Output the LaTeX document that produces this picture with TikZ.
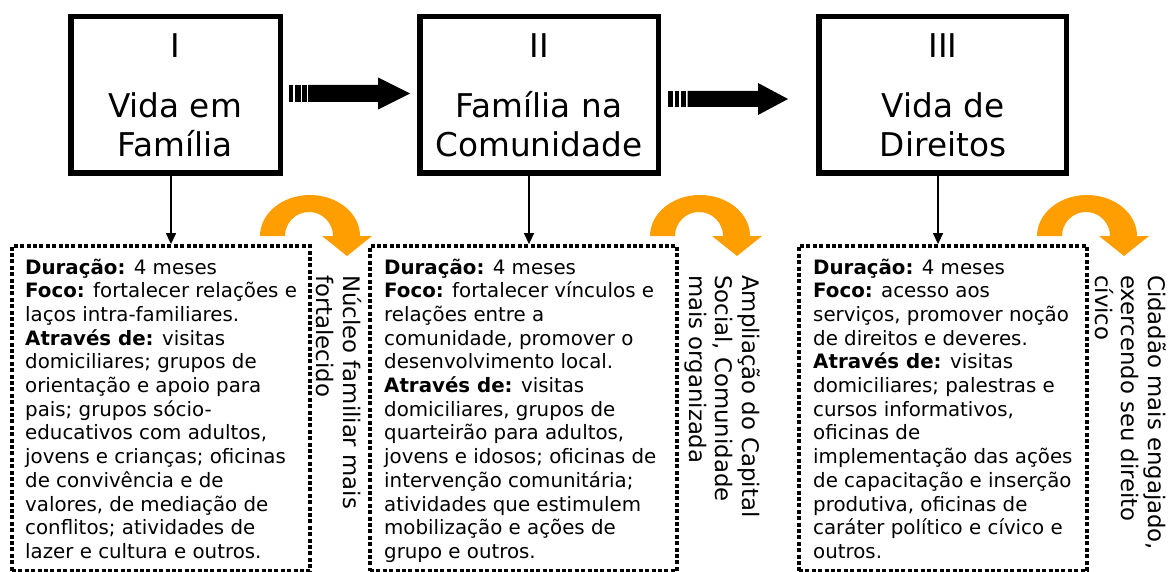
\documentclass[tikz,border=0pt]{standalone}
\usepackage{fontspec}
\setmainfont{DejaVu Sans}
\usetikzlibrary{arrows.meta,calc}
\definecolor{orangearr}{RGB}{255,158,0}
\newcommand{\bodyfnt}{\fontsize{19.8}{23.7}\selectfont}
\newcommand{\titlefnt}{\fontsize{32.7}{39}\selectfont}
\newcommand{\sidefnt}{\fontsize{22.8}{26.5}\selectfont}
\begin{document}
\begin{tikzpicture}[x=1pt,y=1pt,
  phasebox/.style={draw, line width=5.5pt, minimum height=156.5pt, inner sep=0pt},
  detailbox/.style={draw, line width=3.8pt, dash pattern=on 4pt off 2.4pt, minimum height=325pt, inner sep=0pt},
  titletext/.style={anchor=base, inner sep=0pt, font=\titlefnt},
  bodytext/.style={anchor=base west, inner sep=0pt, font=\bodyfnt},
  sidetext/.style={anchor=base west, inner sep=0pt, rotate=-90, font=\sidefnt},
  thinarrow/.style={line width=1.3pt, -{Triangle[length=11pt,width=10pt]}},
  bigarrow/.style={fill=black},
  curvearrow/.style={fill=orangearr}]
\useasboundingbox (0,0) rectangle (1169,-572);

% phase boxes
\node[phasebox, minimum width=209.5pt] (b1) at (175.5,-95) {};
\node[phasebox, minimum width=238.5pt] (b2) at (539,-95) {};
\node[phasebox, minimum width=247.5pt] (b3) at (942.5,-95) {};

\node[titletext] (t1) at (175,-58) {\begin{tabular}[t]{@{}c@{}}I\\[21pt]Vida em\\Família\end{tabular}};
\node[titletext] (t2) at (539,-58) {\begin{tabular}[t]{@{}c@{}}II\\[21pt]Família na\\Comunidade\end{tabular}};
\node[titletext] (t3) at (943,-58) {\begin{tabular}[t]{@{}c@{}}III\\[21pt]Vida de\\Direitos\end{tabular}};

% detail boxes
\node[detailbox, minimum width=298pt] (d1) at (161,-408.5) {};
\node[detailbox, minimum width=307pt] (d2) at (523.5,-408.5) {};
\node[detailbox, minimum width=288pt] (d3) at (943,-408.5) {};

\node[bodytext] (x1) at (25,-274) {\begin{tabular}[t]{@{}l@{}}
\textbf{Duração:} 4 meses\\
\textbf{Foco:} fortalecer relações e\\
laços intra-familiares.\\
\textbf{Através de:} visitas\\
domiciliares; grupos de\\
orientação e apoio para\\
pais; grupos sócio-\\
educativos com adultos,\\
jovens e crianças; oficinas\\
de convivência e de\\
valores, de mediação de\\
conflitos; atividades de\\
lazer e cultura e outros.\end{tabular}};

\node[bodytext] (x2) at (384,-274) {\begin{tabular}[t]{@{}l@{}}
\textbf{Duração:} 4 meses\\
\textbf{Foco:} fortalecer vínculos e\\
relações entre a\\
comunidade, promover o\\
desenvolvimento local.\\
\textbf{Através de:} visitas\\
domiciliares, grupos de\\
quarteirão para adultos,\\
jovens e idosos; oficinas de\\
intervenção comunitária;\\
atividades que estimulem\\
mobilização e ações de\\
grupo e outros.\end{tabular}};

\node[bodytext] (x3) at (813,-274) {\begin{tabular}[t]{@{}l@{}}
\textbf{Duração:} 4 meses\\
\textbf{Foco:} acesso aos\\
serviços, promover noção\\
de direitos e deveres.\\
\textbf{Através de:} visitas\\
domiciliares; palestras e\\
cursos informativos,\\
oficinas de\\
implementação das ações\\
de capacitação e inserção\\
produtiva, oficinas de\\
caráter político e cívico e\\
outros.\end{tabular}};

% side labels
\node[sidetext] (s1) at (343,-275) {\begin{tabular}[t]{@{}l@{}}Núcleo familiar mais\\fortalecido\end{tabular}};
\node[sidetext] (s2) at (742,-275) {\begin{tabular}[t]{@{}l@{}}Ampliação do Capital\\Social, Comunidade\\mais organizada\end{tabular}};
\node[sidetext] (s3) at (1148,-275) {\begin{tabular}[t]{@{}l@{}}Cidadão mais engajado,\\exercendo seu direito\\cívico\end{tabular}};

% down connectors
\coordinate (a1) at (171,0);
\coordinate (a2) at (529,0);
\coordinate (a3) at (938,0);
\draw[thinarrow] (b1.south -| a1) -- (d1.north -| a1);
\draw[thinarrow] (b2.south -| a2) -- (d2.north -| a2);
\draw[thinarrow] (b3.south -| a3) -- (d3.north -| a3);

% striped arrows
\begin{scope}[shift={(0,-93.5)}]
\fill[bigarrow] (289,-8.5) rectangle (293,8.5);
\fill[bigarrow] (295,-8.5) rectangle (300.5,8.5);
\fill[bigarrow] (302,-8.5) rectangle (306.5,8.5);
\fill[bigarrow] (308,8.5) -- (378,8.5) -- (378,16) -- (410,0) -- (378,-16) -- (378,-8.5) -- (308,-8.5) -- cycle;
\end{scope}
\begin{scope}[shift={(0,-99)}]
\fill[bigarrow] (668,-8) rectangle (672.5,8);
\fill[bigarrow] (674.5,-8) rectangle (679,8);
\fill[bigarrow] (680.5,-8) rectangle (685.5,8);
\fill[bigarrow] (687.5,8) -- (758,8) -- (758,16) -- (788,0) -- (758,-16) -- (758,-8) -- (687.5,-8) -- cycle;
\end{scope}

% curved orange arrows
\foreach \dx in {0,390,777}{
\fill[curvearrow, shift={(\dx,0)}] (260,-236) arc[start angle=180, end angle=0, x radius=50, y radius=41]
  -- (372,-236) -- (347,-256) -- (322,-236) -- (333,-236)
  arc[start angle=0, end angle=180, radius=24] -- cycle;
}
\end{tikzpicture}
\end{document}
